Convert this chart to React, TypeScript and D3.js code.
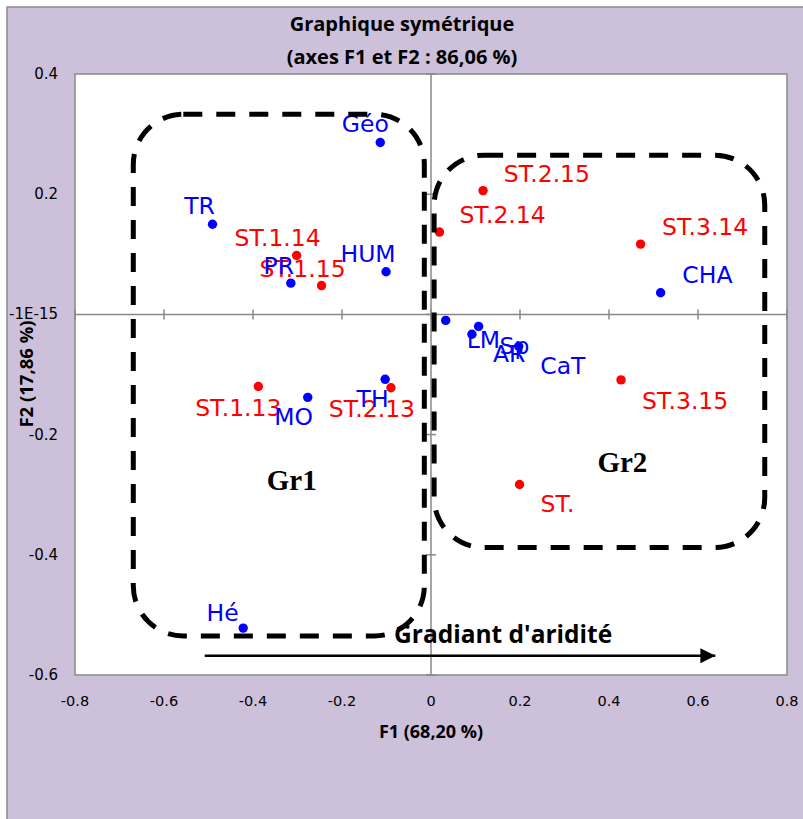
import React from "react";
import * as d3 from "d3";

// ---- data ----
const blueNames = ["Géo", "TR", "PR", "HUM", "CHA", "LM", "Sp", "AR", "CaT", "TH", "MO", "Hé"];
const blueF1 = [-0.114, -0.491, -0.315, -0.101, 0.516, 0.033, 0.107, 0.092, 0.197, -0.103, -0.277, -0.422];
const blueF2 = [0.286, 0.150, 0.052, 0.071, 0.036, -0.010, -0.020, -0.033, -0.053, -0.108, -0.138, -0.522];

const redNames = ["ST.1.14", "ST.1.15", "ST.2.15", "ST.2.14", "ST.3.14", "ST.1.13", "ST.2.13", "ST.3.15", "ST."];
const redF1 = [-0.302, -0.246, 0.117, 0.019, 0.471, -0.388, -0.090, 0.427, 0.199];
const redF2 = [0.098, 0.048, 0.206, 0.137, 0.117, -0.120, -0.122, -0.109, -0.283];

const xTicks = [-0.8, -0.6, -0.4, -0.2, 0, 0.2, 0.4, 0.6, 0.8];
const xTickLabels = ["-0.8", "-0.6", "-0.4", "-0.2", "0", "0.2", "0.4", "0.6", "0.8"];
const yTicks = [0.4, 0.2, 0, -0.2, -0.4, -0.6];
const yTickLabels = ["0.4", "0.2", "-1E-15", "-0.2", "-0.4", "-0.6"];

const titleLines = ["Graphique symétrique", "(axes F1 et F2 : 86,06 %)"];
const xTitle = "F1 (68,20 %)";
const yTitle = "F2 (17,86 %)";

// group boxes (data units: x1, x2, yTop, yBottom)
const groupNames = ["Gr1", "Gr2"];
const groupBoxes = [
  [-0.669, -0.015, 0.333, -0.535],
  [0.007, 0.75, 0.265, -0.388],
];
const groupLabelPos = [
  [-0.313, -0.292],
  [0.43, -0.263],
];
const gradientText = "Gradiant d'aridité";
const gradientArrow = [-0.5085, 0.639, -0.568];
const gradientTextPos = [-0.083, -0.546];

// label placements: [anchor, dx, dy]
const blueLabelPlace: [string, number, number][] = [
  ["middle", -15, -10.4],
  ["middle", -13, -10.7],
  ["middle", -12, -9.4],
  ["middle", -18, -9.4],
  ["start", 21.7, -9.6],
  ["start", 21, 28],
  ["start", 21, 28],
  ["start", 21, 28],
  ["start", 21.6, 27.3],
  ["middle", -12.6, 28],
  ["middle", -14, 27.6],
  ["end", -4.6, -7.3],
];
const redLabelPlace: [string, number, number][] = [
  ["middle", -19, -9.3],
  ["middle", -19, -9],
  ["start", 20.7, -9],
  ["start", 20, -9.4],
  ["start", 21.4, -8.7],
  ["middle", -20, 29.3],
  ["middle", -19, 29.4],
  ["start", 21, 29],
  ["start", 21, 28],
];

const W = 803;
const H = 819;
const PL = 75, PR_ = 787, PT = 74, PB = 675;
const BG = "#CCC0DA";
const AXIS = "#898989";
const LABEL_FONT = "'DejaVu Sans', Verdana, sans-serif";
const BOLD_FONT = "'Open Sans', Calibri, sans-serif";

export default function App() {
  const x = d3.scaleLinear().domain([-0.8, 0.8]).range([PL, PR_]);
  const y = d3.scaleLinear().domain([-0.6, 0.4]).range([PB, PT]);
  const x0 = x(0);
  const y0 = y(0);

  const blue = blueNames.map((n, i) => ({ n, x: blueF1[i], y: blueF2[i], p: blueLabelPlace[i] }));
  const red = redNames.map((n, i) => ({ n, x: redF1[i], y: redF2[i], p: redLabelPlace[i] }));

  return (
    <svg
      width={W}
      height={H}
      style={{ position: "absolute", left: 0, top: 0 }}
      xmlns="http://www.w3.org/2000/svg"
    >
      <defs>
        <marker id="arrowHead" viewBox="0 0 10 10" refX="10" refY="5" markerWidth="6.5" markerHeight="6" markerUnits="strokeWidth" orient="auto">
          <path d="M0,0 L10,5 L0,10 Z" fill="#000" />
        </marker>
      </defs>
      <rect x={0} y={0} width={W} height={H} fill="#fff" />
      <rect x={7} y={7} width={W} height={H} fill={BG} stroke={AXIS} strokeWidth={1.5} />
      {/* title */}
      {titleLines.map((t, i) => (
        <text key={t} x={402} y={31 + i * 33} textAnchor="middle" fontFamily={BOLD_FONT} fontWeight={700} fontSize={20} fill="#000">
          {t}
        </text>
      ))}
      {/* plot area */}
      <rect x={PL} y={PT} width={PR_ - PL} height={PB - PT} fill="#fff" stroke={AXIS} strokeWidth={1.5} />
      {/* zero axes */}
      <line x1={PL} x2={PR_} y1={y0} y2={y0} stroke={AXIS} strokeWidth={1.5} />
      <line x1={x0} x2={x0} y1={PT} y2={PB} stroke={AXIS} strokeWidth={1.5} />
      {xTicks.map((t) => (
        <line key={"xt" + t} x1={x(t)} x2={x(t)} y1={y0 - 5} y2={y0 + 5} stroke={AXIS} strokeWidth={1.5} />
      ))}
      {yTicks.map((t) => (
        <line key={"yt" + t} x1={x0 - 5} x2={x0 + 5} y1={y(t)} y2={y(t)} stroke={AXIS} strokeWidth={1.5} />
      ))}
      {/* tick labels */}
      {xTicks.map((t, i) => (
        <text key={"xl" + t} x={x(t)} y={706} textAnchor="middle" fontFamily={LABEL_FONT} fontSize={14.5} fill="#000">
          {xTickLabels[i]}
        </text>
      ))}
      {yTicks.map((t, i) => (
        <text key={"yl" + t} x={58} y={y(t) + 5} textAnchor="end" fontFamily={LABEL_FONT} fontSize={15} fill="#000">
          {yTickLabels[i]}
        </text>
      ))}
      {/* axis titles */}
      <text x={431} y={738} textAnchor="middle" fontFamily={BOLD_FONT} fontWeight={700} fontSize={18} fill="#000">
        {xTitle}
      </text>
      <text transform={`translate(33,374) rotate(-90)`} textAnchor="middle" fontFamily={BOLD_FONT} fontWeight={700} fontSize={18.5} fill="#000">
        {yTitle}
      </text>
      {/* points */}
      {blue.map((d) => (
        <circle key={"bp" + d.n} cx={x(d.x)} cy={y(d.y)} r={4.7} fill="#0000FF" />
      ))}
      {red.map((d) => (
        <circle key={"rp" + d.n} cx={x(d.x)} cy={y(d.y)} r={4.7} fill="#FF0000" />
      ))}
      {/* labels */}
      {red.map((d) => (
        <text key={"rl" + d.n} x={x(d.x) + d.p[1]} y={y(d.y) + d.p[2]} textAnchor={d.p[0] as any} fontFamily={LABEL_FONT} fontSize={23.5} fill="#FF0000">
          {d.n}
        </text>
      ))}
      {blue.map((d) => (
        <text key={"bl" + d.n} x={x(d.x) + d.p[1]} y={y(d.y) + d.p[2]} textAnchor={d.p[0] as any} fontFamily={LABEL_FONT} fontSize={23.5} fill="#0000FF">
          {d.n}
        </text>
      ))}
      {/* group boxes */}
      {groupBoxes.map((b, i) => (
        <rect
          key={"gb" + i}
          x={x(b[0])}
          y={y(b[2])}
          width={x(b[1]) - x(b[0])}
          height={y(b[3]) - y(b[2])}
          rx={50}
          ry={50}
          fill="none"
          stroke="#000"
          strokeWidth={5}
          strokeDasharray="19 14"
        />
      ))}
      {groupNames.map((g, i) => (
        <text key={g} x={x(groupLabelPos[i][0])} y={y(groupLabelPos[i][1])} textAnchor="middle" fontFamily="'Liberation Serif', 'Times New Roman', serif" fontWeight={700} fontSize={29} fill="#000">
          {g}
        </text>
      ))}
      {/* gradient arrow */}
      <line
        x1={x(gradientArrow[0])}
        x2={x(gradientArrow[1])}
        y1={y(gradientArrow[2])}
        y2={y(gradientArrow[2])}
        stroke="#000"
        strokeWidth={2.5}
        markerEnd="url(#arrowHead)"
      />
      <text x={x(gradientTextPos[0])} y={y(gradientTextPos[1])} fontFamily={BOLD_FONT} fontWeight={700} fontSize={24.5} fill="#000">
        {gradientText}
      </text>
    </svg>
  );
}
